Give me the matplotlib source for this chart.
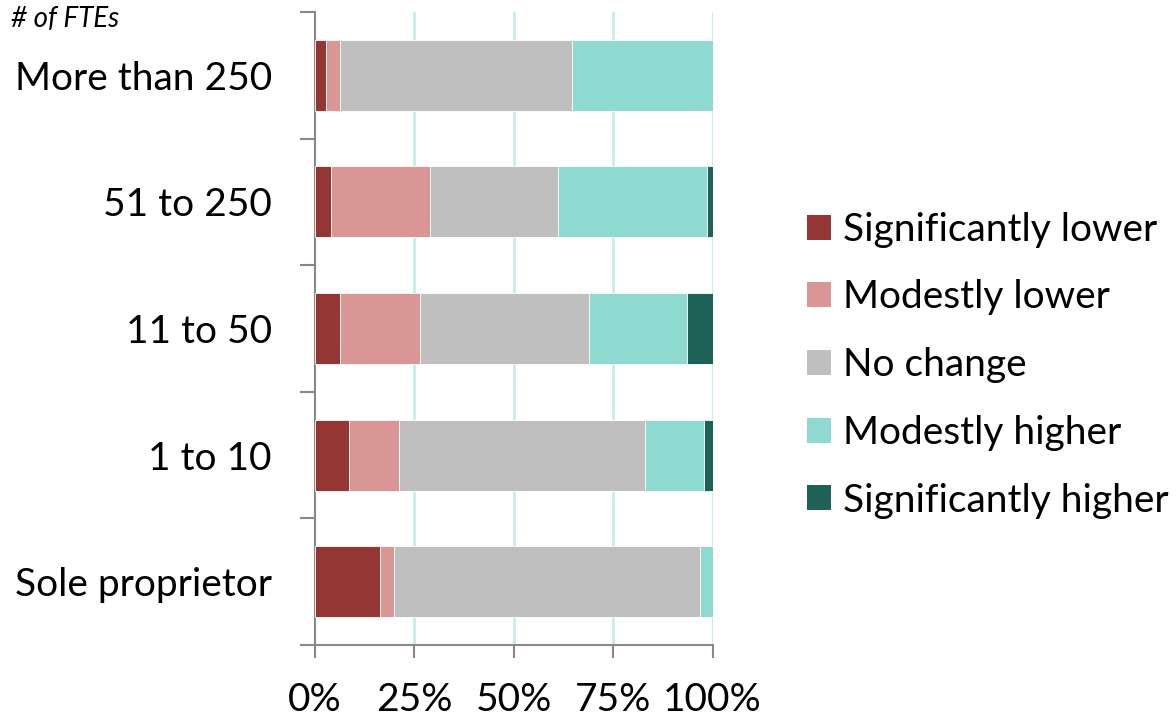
import numpy as np
import matplotlib
matplotlib.use("Agg")
import matplotlib.pyplot as plt
from matplotlib.patches import Patch

plt.rcParams['font.family'] = ['Lato', 'DejaVu Sans']

# Share of respondents (%) by firm size
sizes = ["More than 250", "51 to 250", "11 to 50", "1 to 10", "Sole proprietor"]
sig_lower = [2.8, 3.9, 6.4, 8.5, 16.4]
mod_lower = [3.6, 25.1, 19.9, 12.7, 3.4]
no_change = [58.2, 32.1, 42.5, 61.7, 76.9]
mod_higher = [35.4, 37.6, 24.8, 14.8, 3.3]
sig_higher = [0.0, 1.3, 6.4, 2.3, 0.0]

series = ["Significantly lower", "Modestly lower", "No change",
          "Modestly higher", "Significantly higher"]
colors = ["#943634", "#d99694", "#bfbfbf", "#8fdad0", "#1e6157"]
values = [sig_lower, mod_lower, no_change, mod_higher, sig_higher]

fig = plt.figure(figsize=(11.76, 7.21), dpi=100)
ax = fig.add_axes([0.2679, 0.1054, 0.3381, 0.878])

y = np.arange(len(sizes))
left = np.zeros(len(sizes))
for name, vals, c in zip(series, values, colors):
    vals = np.array(vals)
    ax.barh(y, vals, left=left, height=0.56, color=c, edgecolor="white",
            linewidth=0.6, label=name, zorder=3)
    left += vals

ax.set_xlim(0, 100)
ax.set_ylim(len(sizes) - 0.5, -0.5)

# light teal vertical grid
ax.set_xticks([0, 25, 50, 75, 100])
ax.set_xticklabels(["0%", "25%", "50%", "75%", "100%"], fontsize=28)
for xv in [25, 50, 75, 100]:
    ax.axvline(xv, color="#c6ede8", lw=2, zorder=1)

ax.set_yticks(y)
ax.set_yticklabels(sizes, fontsize=28)
ax.set_yticks(np.arange(-0.5, len(sizes)), minor=True)
ax.tick_params(axis="y", which="major", length=0, pad=31)
ax.tick_params(axis="y", which="minor", length=11, width=1.5, color="#888888")
ax.tick_params(axis="x", length=9.5, width=1.5, color="#888888", pad=17)

for s in ["top", "right"]:
    ax.spines[s].set_visible(False)
for s in ["left", "bottom"]:
    ax.spines[s].set_color("#888888")
    ax.spines[s].set_linewidth(1.5)

fig.text(0.009, 0.974, "# of FTEs", fontsize=20, style="italic", va="center", ha="left")

handles = [Patch(facecolor=c, edgecolor="none") for c in colors]
fig.legend(handles, series, loc="center left", bbox_to_anchor=(0.673, 0.4935),
           fontsize=28, frameon=False, handlelength=0.62, handleheight=0.62,
           handletextpad=0.31, labelspacing=0.815, borderaxespad=0)

fig.savefig("out.png", dpi=100)
